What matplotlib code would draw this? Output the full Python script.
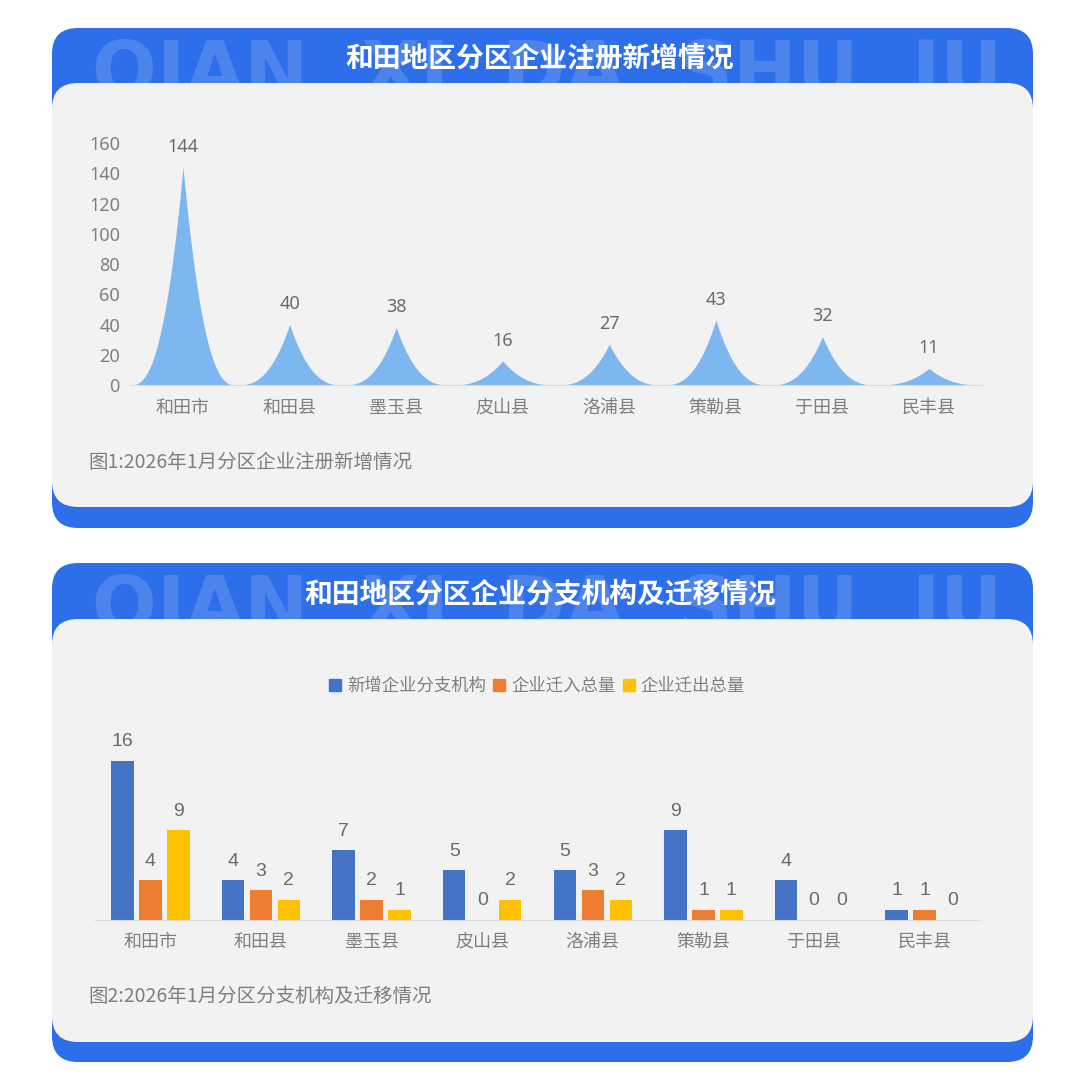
"""Recreates the 和田地区 enterprise registration infographic as out.png."""
import matplotlib
matplotlib.use("Agg")
import matplotlib.pyplot as plt
import numpy as np
from matplotlib.patches import FancyBboxPatch, Patch

plt.rcParams["font.family"] = ["Noto Sans CJK SC", "DejaVu Sans"]
NUM_FONT = ["Noto Sans", "Noto Sans CJK SC"]

# ---- data -------------------------------------------------------------
districts = ["和田市", "和田县", "墨玉县", "皮山县", "洛浦县", "策勒县", "于田县", "民丰县"]
new_regs = [144, 40, 38, 16, 27, 43, 32, 11]

branch_new = [16, 4, 7, 5, 5, 9, 4, 1]
moved_in = [4, 3, 2, 0, 3, 1, 0, 1]
moved_out = [9, 2, 1, 2, 2, 1, 0, 0]
series_names = ["新增企业分支机构", "企业迁入总量", "企业迁出总量"]

title1 = "和田地区分区企业注册新增情况"
title2 = "和田地区分区企业分支机构及迁移情况"
caption1 = "图1:2026年1月分区企业注册新增情况"
caption2 = "图2:2026年1月分区分支机构及迁移情况"
watermark = "QIAN  XI  DA  SHU  JU"

# ---- styles -----------------------------------------------------------
BLUE = "#2D6EEA"
PANEL = "#F2F2F2"
SPIKE = "#7DB7F0"
BAR_COLORS = ["#4472C4", "#ED7D31", "#FFC000"]
TEXT = "#7F7F7F"
LABEL = "#6A6A6A"
W, H = 1080, 1077


def fy(py):
    return 1 - py / H


fig = plt.figure(figsize=(W / 100, H / 100), dpi=100)
fig.patch.set_facecolor("white")

# background panels drawn in pixel coordinates
bg = fig.add_axes([0, 0, 1, 1])
bg.set_xlim(0, W)
bg.set_ylim(H, 0)
bg.axis("off")

for top, gray_top, gray_bot, bot, title in [(28, 83, 507, 528, title1),
                                             (563, 619, 1042, 1062, title2)]:
    blue = FancyBboxPatch((52, top), 981, bot - top,
                          boxstyle="round,pad=0,rounding_size=26",
                          fc=BLUE, ec="none", zorder=1)
    bg.add_patch(blue)
    wm = bg.text(92, top + 10, watermark, color="white", alpha=0.15,
                 fontsize=55, fontweight="bold", family="DejaVu Sans",
                 ha="left", va="top", zorder=2)
    wm.set_clip_path(blue)
    bg.add_patch(FancyBboxPatch((52, gray_top), 981, gray_bot - gray_top,
                                boxstyle="round,pad=0,rounding_size=26",
                                fc=PANEL, ec="none", zorder=3))
    bg.text(540, (top + gray_top) / 2 + 3, title, color="white", fontsize=20,
            fontweight="bold", ha="center", va="center", zorder=4)

# ---- chart 1: spike ("pictorial") bars ----------------------------------
ax1 = fig.add_axes([129.7 / W, fy(385), 852.6 / W, 242 / H])
ax1.set_facecolor("none")
xs = np.linspace(-0.5, len(districts) - 0.5, 4001)
ys = np.zeros_like(xs)
for i, v in enumerate(new_regs):
    d = np.abs(xs - i) / 0.5
    m = d < 1
    ys[m] = v * (1 - d[m]) ** 2.6
ax1.fill_between(xs, 0, ys, color=SPIKE, lw=0)
for i, v in enumerate(new_regs):
    ax1.annotate(str(v), (i, v), xytext=(0, 11), textcoords="offset points",
                 ha="center", va="baseline", fontsize=13, color=LABEL,
                 family=NUM_FONT)
ax1.set_xlim(-0.5, len(districts) - 0.5)
ax1.set_ylim(0, 160)
ax1.set_yticks(np.arange(0, 161, 20))
ax1.set_xticks(range(len(districts)))
ax1.set_xticklabels(districts)
ax1.tick_params(length=0, labelsize=13, labelcolor=TEXT)
ax1.tick_params(axis="y", pad=7)
ax1.tick_params(axis="x", pad=10)
for lbl in ax1.get_yticklabels():
    lbl.set_family(NUM_FONT)
for s in ["top", "right", "left"]:
    ax1.spines[s].set_visible(False)
ax1.spines["bottom"].set_color("#DADADA")

fig.text(88 / W, fy(462), caption1, ha="left", va="center", fontsize=14, color=TEXT)

# ---- chart 2: grouped bars --------------------------------------------
ax2 = fig.add_axes([95 / W, fy(920), 885 / W, 159.4 / H])
ax2.set_facecolor("none")
x = np.arange(len(districts))
width = 0.204
step = 0.253
for k, vals in enumerate([branch_new, moved_in, moved_out]):
    pos = x + (k - 1) * step
    ax2.bar(pos, vals, width, color=BAR_COLORS[k], label=series_names[k])
    for px, v in zip(pos, vals):
        ax2.annotate(str(v), (px, v), xytext=(0, 10.5), textcoords="offset points",
                     ha="center", va="baseline", fontsize=14, color=LABEL,
                     family=["Liberation Sans", "DejaVu Sans"])
ax2.set_xlim(-0.5, len(districts) - 0.5)
ax2.set_ylim(0, 16)
ax2.set_yticks([])
ax2.set_xticks(x)
ax2.set_xticklabels(districts)
ax2.tick_params(length=0, labelsize=13, labelcolor=TEXT, pad=9)
for s in ["top", "right", "left"]:
    ax2.spines[s].set_visible(False)
ax2.spines["bottom"].set_color("#DADADA")

handles = [Patch(color=c, label=n) for c, n in zip(BAR_COLORS, series_names)]
leg = fig.legend(handles=handles, loc="center", bbox_to_anchor=(537 / W, fy(686)),
                 ncol=3, frameon=False, fontsize=12.5, handlelength=0.7,
                 handleheight=0.7, handletextpad=0.35, columnspacing=0.4)
for t in leg.get_texts():
    t.set_color(TEXT)

fig.text(88 / W, fy(996), caption2, ha="left", va="center", fontsize=14, color=TEXT)

fig.savefig("out.png", dpi=100, facecolor="white")
